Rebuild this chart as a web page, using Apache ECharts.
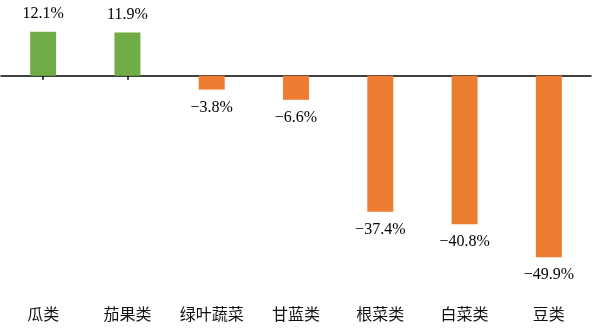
<!DOCTYPE html>
<html>
<head>
<meta charset="utf-8">
<script src="https://cdn.jsdelivr.net/npm/echarts@6/dist/echarts.min.js"></script>
<style>
  html, body { margin: 0; padding: 0; background: #fff; }
  #chart { width: 600px; height: 330px; }
</style>
</head>
<body>
<div id="chart"></div>
<script>
// Year-on-year change by vegetable group (%)
const categories = ['瓜类', '茄果类', '绿叶蔬菜', '甘蓝类', '根菜类', '白菜类', '豆类'];
const changes = [12.1, 11.9, -3.8, -6.6, -37.4, -40.8, -49.9];

const UP = '#70AD47';
const DOWN = '#ED7D31';
const valueFont = 'Liberation Serif, DejaVu Serif, serif';

const barData = changes.map(v => ({
  value: v,
  itemStyle: { color: v >= 0 ? UP : DOWN },
  label: { position: v >= 0 ? 'top' : 'bottom' }
}));

const chart = echarts.init(document.getElementById('chart'));
chart.setOption({
  animation: false,
  grid: { left: 1, right: 9, top: 3, bottom: 36 },
  xAxis: [
    {
      // category names along the bottom edge
      type: 'category',
      data: categories,
      position: 'bottom',
      axisLine: { show: false, onZero: false },
      axisTick: { show: false },
      axisLabel: {
        margin: 12,
        fontFamily: 'Noto Sans CJK SC',
        fontSize: 16,
        color: '#111'
      }
    },
    {
      // baseline at zero with ticks under each bar
      type: 'category',
      data: categories,
      position: 'bottom',
      axisLine: { show: true, onZero: true, lineStyle: { color: '#000', width: 1.5 } },
      axisTick: { show: true, alignWithLabel: true, length: 4, lineStyle: { color: '#000', width: 1.5 } },
      axisLabel: { show: false }
    }
  ],
  yAxis: {
    type: 'value',
    min: -60,
    max: 20,
    show: false,
    splitLine: { show: false }
  },
  series: [{
    type: 'bar',
    xAxisIndex: 0,
    data: barData,
    barWidth: 26,
    label: {
      show: true,
      distance: 10,
      fontFamily: valueFont,
      fontSize: 16,
      color: '#000',
      formatter: p => p.value.toFixed(1).replace('-', '\u2212') + '%'
    }
  }]
});
</script>
</body>
</html>
